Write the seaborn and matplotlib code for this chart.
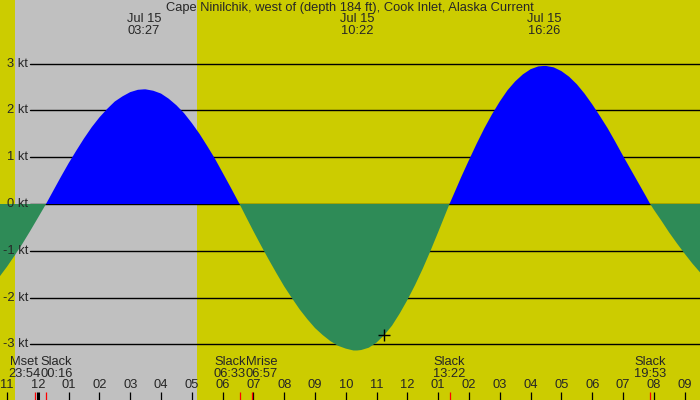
import seaborn as sns
import matplotlib.pyplot as plt
import matplotlib.transforms as mtransforms

# Tidal current, Cape Ninilchik, Jul 15 (hours from midnight, knots)
hours = [-1.25, -1.0, -0.75, -0.5, -0.25, 0.0, 0.267,
         0.5, 0.75, 1.0, 1.25, 1.5, 1.75, 2.0, 2.25, 2.5, 2.75, 3.0, 3.25, 3.45,
         3.5, 3.75, 4.0, 4.25, 4.5, 4.75, 5.0, 5.25, 5.5, 5.75, 6.0, 6.25, 6.55,
         6.75, 7.0, 7.25, 7.5, 7.75, 8.0, 8.25, 8.5, 8.75, 9.0, 9.25, 9.5, 9.75, 10.0, 10.25, 10.367,
         10.5, 10.75, 11.0, 11.25, 11.5, 11.75, 12.0, 12.25, 12.5, 12.75, 13.0, 13.25, 13.367,
         13.5, 13.75, 14.0, 14.25, 14.5, 14.75, 15.0, 15.25, 15.5, 15.75, 16.0, 16.25, 16.43,
         16.5, 16.75, 17.0, 17.25, 17.5, 17.75, 18.0, 18.25, 18.5, 18.75, 19.0, 19.25, 19.5, 19.75, 19.883,
         20.0, 20.25, 20.5, 20.75, 21.0, 21.25, 21.5]
speed = [-1.56, -1.34, -1.10, -0.85, -0.58, -0.30, 0.0,
         0.28, 0.58, 0.87, 1.14, 1.40, 1.64, 1.85, 2.03, 2.19, 2.30, 2.39, 2.44, 2.45,
         2.45, 2.42, 2.36, 2.25, 2.11, 1.94, 1.73, 1.50, 1.24, 0.97, 0.67, 0.37, 0.0,
         -0.26, -0.58, -0.89, -1.19, -1.48, -1.76, -2.01, -2.25, -2.46, -2.65, -2.80, -2.93, -3.03, -3.09, -3.13, -3.13,
         -3.12, -3.07, -2.96, -2.80, -2.60, -2.34, -2.05, -1.73, -1.38, -1.00, -0.60, -0.19, 0.0,
         0.20, 0.58, 0.94, 1.29, 1.62, 1.92, 2.19, 2.43, 2.62, 2.77, 2.88, 2.94, 2.95,
         2.95, 2.92, 2.84, 2.72, 2.56, 2.36, 2.13, 1.88, 1.62, 1.33, 1.03, 0.74, 0.45, 0.16, 0.0,
         -0.12, -0.36, -0.61, -0.84, -1.06, -1.27, -1.46]

# max current times shown on top
peak_hours = [3.45, 10.367, 16.43]
peak_labels = ["03:27", "10:22", "16:26"]

# events along the bottom
event_names = ["Mset", "Slack", "Slack", "Mrise", "Slack", "Slack"]
event_times = ["23:54", "00:16", "06:33", "06:57", "13:22", "19:53"]
event_hours = [-0.1, 0.267, 6.55, 6.95, 13.367, 19.883]

# night (sunset -> sunrise)
sunset, sunrise = -0.74, 5.17

hour_ticks = list(range(-1, 22))
hour_labels = ["11", "12", "01", "02", "03", "04", "05", "06", "07", "08", "09", "10",
               "11", "12", "01", "02", "03", "04", "05", "06", "07", "08", "09"]
kt_levels = [3, 2, 1, 0, -1, -2, -3]

now_hour, now_speed = 11.24, -2.8

title = "Cape Ninilchik, west of (depth 184 ft), Cook Inlet, Alaska Current"

sns.set_style("white")
plt.rcParams['font.family'] = ['Liberation Sans', 'DejaVu Sans']
FS = 9.3

YELLOW = "#cccc00"
fig = plt.figure(figsize=(7, 4), dpi=100)
fig.patch.set_facecolor(YELLOW)
ax = fig.add_axes([0, 0, 1, 1])
ax.set_facecolor(YELLOW)
for s in ax.spines.values():
    s.set_visible(False)

ax.set_xlim(-1.227, 21.5)
ax.set_ylim(-4.188, 4.359)

ax.axvspan(sunset, sunrise, color="#c0c0c0", zorder=0, lw=0)

ytrans = mtransforms.blended_transform_factory(ax.transAxes, ax.transData)
for k in kt_levels:
    ax.axhline(k, xmin=0.043, xmax=1, color="black", lw=1.0, zorder=1)
    ax.text(0.04, k, f"{k} kt", transform=ytrans, ha="right", va="center", fontsize=FS)

ax.fill_between(hours, speed, 0, where=[v >= 0 for v in speed], interpolate=True,
                color="#0000ff", lw=0, zorder=2)
ax.fill_between(hours, speed, 0, where=[v <= 0 for v in speed], interpolate=True,
                color="#2e8b57", lw=0, zorder=2)

sns.scatterplot(x=[now_hour], y=[now_speed], marker="+", s=80, color="black",
                linewidth=1, ax=ax, zorder=4)

trans = mtransforms.blended_transform_factory(ax.transData, ax.transAxes)
ax.text(0.5, 1 - 8 / 400, title, transform=ax.transAxes, ha="center", va="center", fontsize=FS)
for h, lab in zip(peak_hours, peak_labels):
    ax.text(h, 1 - 19 / 400, "Jul 15", transform=trans, ha="center", va="center", fontsize=FS)
    ax.text(h, 1 - 31 / 400, lab, transform=trans, ha="center", va="center", fontsize=FS)

# spread overlapping event labels
w = 1.04
pos = list(event_hours)
for i in range(1, len(pos)):
    if pos[i] - pos[i - 1] < w:
        mid = (pos[i] + pos[i - 1]) / 2
        pos[i - 1], pos[i] = mid - w / 2, mid + w / 2
for p, name, t in zip(pos, event_names, event_times):
    ax.text(p, 1 - 362 / 400, name, transform=trans, ha="center", va="center", fontsize=FS)
    ax.text(p, 1 - 374 / 400, t, transform=trans, ha="center", va="center", fontsize=FS)

for h, lab in zip(hour_ticks, hour_labels):
    ax.text(h, 1 - 385 / 400, lab, transform=trans, ha="center", va="center", fontsize=FS)
    ax.plot([h, h], [0, 8 / 400], transform=trans, color="black",
            lw=2.2 if h == 0 else 0.9, zorder=3, solid_capstyle="butt")
for h in event_hours:
    ax.plot([h, h], [0, 8 / 400], transform=trans, color="red", lw=0.9, zorder=3,
            solid_capstyle="butt")

ax.set_xticks([])
ax.set_yticks([])
fig.savefig("out.png", dpi=100, facecolor=YELLOW)
